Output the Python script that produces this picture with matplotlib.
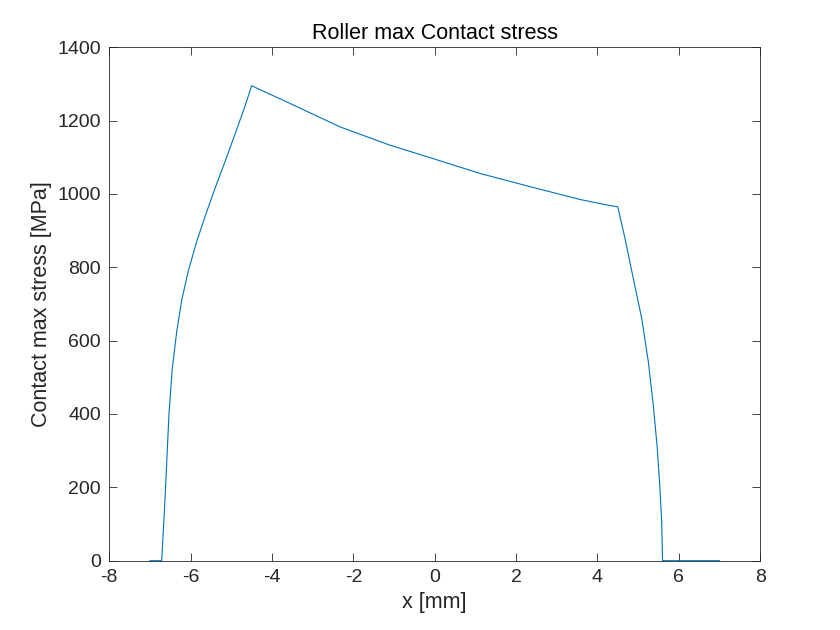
import matplotlib.pyplot as plt

# values (x in mm, stress in MPa)
x_mm = [-7.0, -6.71, -6.646, -6.587, -6.53, -6.449, -6.34, -6.218, -6.056, -5.85, -5.646,
        -5.40, -5.154, -4.908, -4.66, -4.5,
        -3.56, -2.33, -1.10, 0.0, 1.11, 2.34, 3.57, 4.23, 4.5,
        4.676, 4.88, 5.087, 5.25, 5.372, 5.47, 5.536, 5.578, 5.6, 7.0]
stress = [0, 0, 130, 266, 402, 525, 625, 710, 790, 870, 938,
          1015, 1088, 1163, 1240, 1295,
          1247, 1183, 1133, 1095, 1056, 1020, 985, 970, 965,
          879, 770, 661, 543, 425, 307, 198, 107, 0, 0]

xticks = [-8, -6, -4, -2, 0, 2, 4, 6, 8]
yticks = [0, 200, 400, 600, 800, 1000, 1200, 1400]

plt.rcParams['font.family'] = ['Liberation Sans', 'DejaVu Sans']
plt.rcParams['axes.unicode_minus'] = False
grey = '#262626'

fig = plt.figure(figsize=(8.4, 6.3), dpi=100)
ax = fig.add_axes([0.13, 0.11, 0.775, 0.815])
ax.plot(x_mm, stress, '-', color='#0072BD', lw=0.8)

ax.set_xlim(-8, 8)
ax.set_ylim(0, 1400)
ax.set_xticks(xticks)
ax.set_yticks(yticks)
ax.tick_params(direction='in', top=True, right=True, length=6, width=0.6,
               labelsize=14, colors=grey, pad=6)
for s in ax.spines.values():
    s.set_linewidth(0.6)
    s.set_color(grey)

plt.title('Roller max Contact stress', fontsize=15.5, color='black', pad=6)
plt.xlabel('x [mm]', fontsize=15.5, color=grey)
plt.ylabel('Contact max stress [MPa]', fontsize=15.5, color=grey)

plt.savefig('out.png', dpi=100)
plt.close()
